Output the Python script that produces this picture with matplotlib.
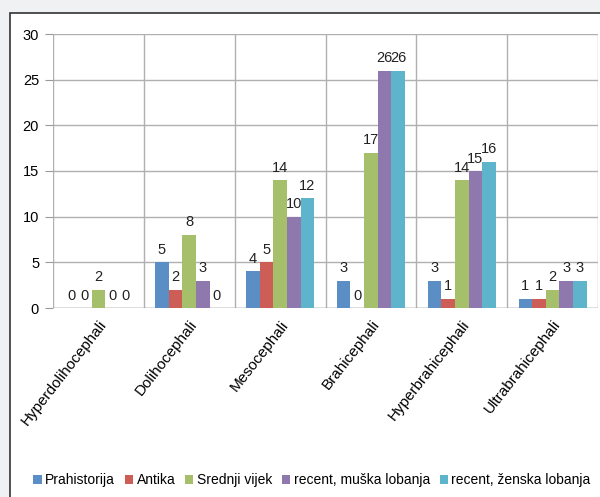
import matplotlib
matplotlib.use("Agg")
import matplotlib.pyplot as plt
import numpy as np
from matplotlib.patches import Rectangle

# --- Data ---
categories = ["Hyperdolihocephali", "Dolihocephali", "Mesocephali",
              "Brahicephali", "Hyperbrahicephali", "Ultrabrahicephali"]
series_names = ["Prahistorija", "Antika", "Srednji vijek",
                "recent, muška lobanja", "recent, ženska lobanja"]
prahistorija = [0, 5, 4, 3, 3, 1]
antika = [0, 2, 5, 0, 1, 1]
srednji_vijek = [2, 8, 14, 17, 14, 2]
muska = [0, 3, 10, 26, 15, 3]
zenska = [0, 0, 12, 26, 16, 3]
y_ticks = [0, 5, 10, 15, 20, 25, 30]

colors = ["#5b8ec4", "#cc5d57", "#a6bf6a", "#8e78ae", "#5db4cb"]

plt.rcParams['font.family'] = ['Liberation Sans', 'DejaVu Sans']

fig = plt.figure(figsize=(6, 4.97), dpi=100, facecolor="#eff1f3")
# white chart panel with dark border
fig.patches.append(Rectangle((10 / 600, -0.1), 1.0, 1 - 13 / 497 + 0.1,
                             transform=fig.transFigure, facecolor="white",
                             edgecolor="#333333", linewidth=1.2, zorder=-5))

ax = fig.add_axes([53 / 600, 1 - 308 / 497, 545 / 600, 274 / 497])
ax.set_zorder(2)
ax.set_facecolor("white")

x = np.arange(len(categories))
width = 0.15
all_series = [prahistorija, antika, srednji_vijek, muska, zenska]
for i, (vals, name, c) in enumerate(zip(all_series, series_names, colors)):
    pos = x + (i - 2) * width
    bars = ax.bar(pos, vals, width, color=c, label=name, zorder=3)
    for b, v in zip(bars, vals):
        ax.text(b.get_x() + b.get_width() / 2, v + 0.6, str(v),
                ha="center", va="bottom", fontsize=10.5, color="#222222", zorder=4)

ax.set_xlim(-0.5, len(categories) - 0.5)
ax.set_ylim(0, 30)
ax.set_yticks(y_ticks)
ax.tick_params(axis="y", length=6, color="#999999", labelsize=10.5, pad=4)

# category boundaries as vertical gridlines
ax.set_xticks(np.arange(-0.5, len(categories), 1.0), minor=False)
ax.set_xticklabels([])
ax.tick_params(axis="x", length=0)
ax.set_xticks(x, minor=True)
ax.set_xticklabels(categories, minor=True, rotation=52, ha="right",
                   rotation_mode="anchor", fontsize=11)
ax.tick_params(axis="x", which="minor", length=0, pad=7)

ax.grid(True, which="major", color="#b0b0b0", linewidth=1, zorder=0)
for s in ax.spines.values():
    s.set_visible(False)
ax.axhline(0, color="#999999", linewidth=1, zorder=2)

fig.legend(loc="center", bbox_to_anchor=(0.52, 0.034), ncol=5, frameon=False,
           fontsize=10, handlelength=0.6, handleheight=0.6,
           handletextpad=0.25, columnspacing=0.7)

fig.savefig("out.png", dpi=100, facecolor=fig.get_facecolor())
